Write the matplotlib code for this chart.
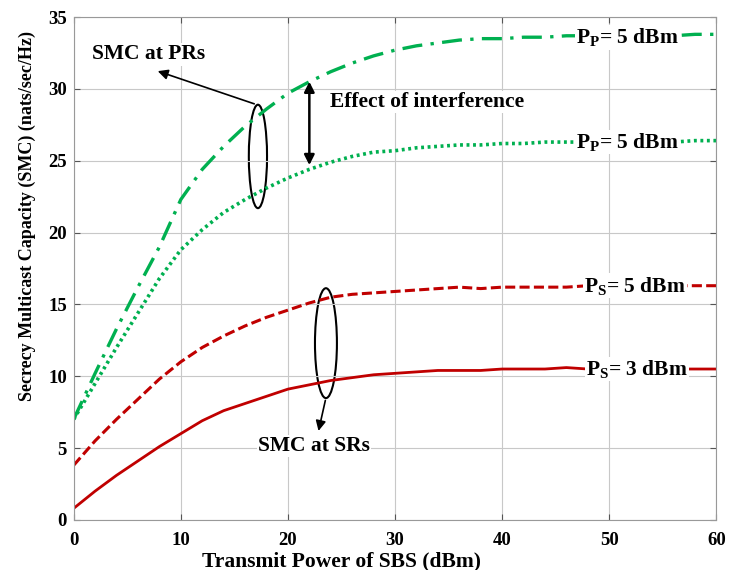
import matplotlib
matplotlib.use("Agg")
import matplotlib.pyplot as plt
from matplotlib.patches import Ellipse

plt.rcParams["font.family"] = "Liberation Serif"
plt.rcParams["font.weight"] = "bold"
plt.rcParams["mathtext.fontset"] = "custom"
plt.rcParams["mathtext.bf"] = "Liberation Serif:bold"
plt.rcParams["mathtext.default"] = "bf"

# transmit power of SBS (dBm)
power = list(range(0, 61, 2))

# SMC at PRs, no interference (dash-dot)
pr_upper = [7.0, 10.2, 13.3, 16.2, 19.0, 22.3, 24.4, 26.0, 27.4, 28.6, 29.7,
            30.5, 31.2, 31.8, 32.3, 32.7, 33.0, 33.2, 33.4, 33.5, 33.5,
            33.6, 33.6, 33.7, 33.7, 33.7, 33.7, 33.7, 33.7, 33.8, 33.8]
# SMC at PRs, with interference (dotted)
pr_lower = [7.0, 9.5, 12.0, 14.4, 16.8, 18.8, 20.2, 21.4, 22.3, 23.1, 23.8,
            24.4, 24.9, 25.3, 25.6, 25.7, 25.9, 26.0, 26.1, 26.1, 26.2,
            26.2, 26.3, 26.3, 26.3, 26.3, 26.3, 26.3, 26.3, 26.4, 26.4]
# SMC at SRs, Ps = 5 dBm (dashed)
sr_5 = [3.8, 5.5, 7.0, 8.4, 9.8, 11.0, 12.0, 12.8, 13.5, 14.1, 14.6,
        15.1, 15.5, 15.7, 15.8, 15.9, 16.0, 16.1, 16.2, 16.1, 16.2,
        16.2, 16.2, 16.2, 16.3, 16.3, 16.3, 16.3, 16.3, 16.3, 16.3]
# SMC at SRs, Ps = 3 dBm (solid)
sr_3 = [0.8, 2.0, 3.1, 4.1, 5.1, 6.0, 6.9, 7.6, 8.1, 8.6, 9.1,
        9.4, 9.7, 9.9, 10.1, 10.2, 10.3, 10.4, 10.4, 10.4, 10.5,
        10.5, 10.5, 10.6, 10.5, 10.5, 10.5, 10.5, 10.5, 10.5, 10.5]

green = "#00b050"
red = "#c00000"

fig = plt.figure(figsize=(7.37, 5.70), dpi=100)
ax = fig.add_axes([0.100, 0.088, 0.872, 0.882])

ax.plot(power, pr_upper, color=green, lw=2.4, dashes=(6, 2.5, 1, 2.5))
ax.plot(power, pr_lower, color=green, lw=2.6, dashes=(0.8, 1.0))
ax.plot(power, sr_5, color=red, lw=2.2, dashes=(3.3, 1.4))
ax.plot(power, sr_3, color=red, lw=2.0)

ax.set_xlim(0, 60)
ax.set_ylim(0, 35)
ax.set_xticks(range(0, 61, 10))
ax.set_yticks(range(0, 36, 5))
ax.grid(True, color="#c8c8c8", lw=0.8)
ax.tick_params(direction="in", top=True, right=True, labelsize=13.5,
               color="#555555", length=4)
ax.tick_params(axis="x", pad=9)
ax.tick_params(axis="y", pad=5)
for s in ax.spines.values():
    s.set_color("#999999")

ax.set_xlabel("Transmit Power of SBS (dBm)", fontsize=15.5, fontweight="bold",
              labelpad=0)
ax.xaxis.set_label_coords(0.416, -0.062)
ax.set_ylabel("Secrecy Multicast Capacity (SMC) (nats/sec/Hz)", fontsize=13,
              fontweight="bold")
ax.yaxis.set_label_coords(-0.058, 0.604)

box = dict(facecolor="white", edgecolor="none", pad=1)
fs = 15.5
ax.text(51.7, 33.6, "P$_P$= 5 dBm", fontsize=fs, ha="center", va="center", bbox=box)
ax.text(51.7, 26.3, "P$_P$= 5 dBm", fontsize=fs, ha="center", va="center", bbox=box)
ax.text(52.4, 16.3, "P$_S$= 5 dBm", fontsize=fs, ha="center", va="center", bbox=box)
ax.text(52.6, 10.5, "P$_S$= 3 dBm", fontsize=fs, ha="center", va="center", bbox=box)

ax.text(1.7, 32.4, "SMC at PRs", fontsize=fs, ha="left", va="center", bbox=box)
ax.text(23.9, 29.1, "Effect of interference", fontsize=fs, ha="left",
        va="center", bbox=box)
ax.text(17.2, 5.15, "SMC at SRs", fontsize=fs, ha="left", va="center", bbox=box)

ax.add_patch(Ellipse((17.2, 25.3), 1.7, 7.2, fill=False, ec="black", lw=1.5))
ax.add_patch(Ellipse((23.55, 12.3), 2.05, 7.65, fill=False, ec="black", lw=1.5))

arrow = dict(arrowstyle="-|>", color="black", lw=1.2, mutation_scale=15)
ax.annotate("", xy=(7.6, 31.3), xytext=(17.1, 28.9), arrowprops=arrow)
ax.annotate("", xy=(22.8, 6.0), xytext=(23.55, 8.5), arrowprops=arrow)
ax.annotate("", xy=(22.0, 30.7), xytext=(22.0, 24.5),
            arrowprops=dict(arrowstyle="<|-|>", color="black", lw=1.8,
                            mutation_scale=15))

fig.savefig("out.png", dpi=100)
